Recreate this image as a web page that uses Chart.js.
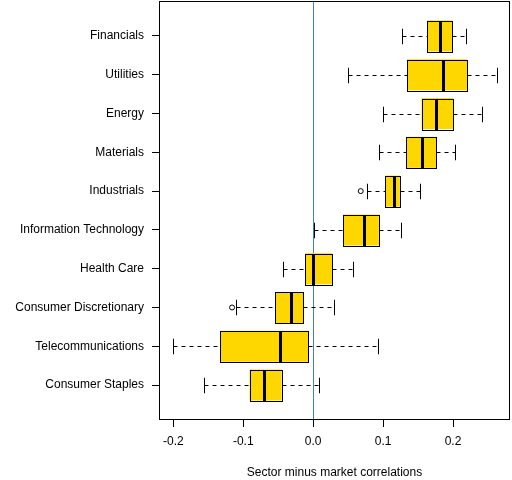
<!DOCTYPE html>
<html>
<head>
<meta charset="utf-8">
<script src="https://cdn.jsdelivr.net/npm/chart.js@4.4.1/dist/chart.umd.min.js"></script>
<style>
  html, body { margin: 0; padding: 0; background: #fff; }
  #wrap { width: 512px; height: 480px; }
</style>
</head>
<body>
<div id="wrap"><canvas id="chart" width="512" height="480"></canvas></div>
<script>
// sectors, top to bottom
const sectors = ['Financials', 'Utilities', 'Energy', 'Materials', 'Industrials',
    'Information Technology', 'Health Care', 'Consumer Discretionary',
    'Telecommunications', 'Consumer Staples'];

// box statistics
const whiskerLow  = [0.127, 0.050, 0.100, 0.094, 0.077, 0.001, -0.043, -0.110, -0.201, -0.156];
const quartile1   = [0.163, 0.134, 0.155, 0.133, 0.103, 0.043, -0.011, -0.054, -0.133, -0.091];
const medians     = [0.182, 0.186, 0.176, 0.156, 0.116, 0.073, 0.000, -0.031, -0.048, -0.071];
const quartile3   = [0.199, 0.220, 0.200, 0.176, 0.124, 0.094, 0.027, -0.014, -0.007, -0.045];
const whiskerHigh = [0.219, 0.263, 0.241, 0.203, 0.153, 0.126, 0.057, 0.030, 0.093, 0.009];

// outliers: [sector index, value]
const outliers = [[4, 0.068], [7, -0.116]];

const xTicks = [-0.2, -0.1, 0.0, 0.1, 0.2];

const FONT = { family: '"Liberation Sans", Arial, sans-serif', size: 12 };

const px = v => Math.round(v) + 0.5;

const boxPlugin = {
    id: 'boxParts',
    beforeDatasetsDraw(chart) {
        const { ctx, chartArea, scales: { x } } = chart;
        const zx = px(x.getPixelForValue(0));
        ctx.save();
        ctx.strokeStyle = '#4682b4';
        ctx.lineWidth = 1;
        ctx.beginPath();
        ctx.moveTo(zx, chartArea.top);
        ctx.lineTo(zx, chartArea.bottom);
        ctx.stroke();
        ctx.restore();
    },
    afterDatasetsDraw(chart) {
        const { ctx, scales: { x, y } } = chart;
        const bars = chart.getDatasetMeta(0).data;
        ctx.save();
        ctx.strokeStyle = '#000';
        sectors.forEach((s, i) => {
            const cy = px(y.getPixelForValue(i + 1));
            const half = bars[i].height / 2;
            const capHalf = half / 2;
            const xl = px(x.getPixelForValue(whiskerLow[i]));
            const x1 = px(x.getPixelForValue(quartile1[i]));
            const x3 = px(x.getPixelForValue(quartile3[i]));
            const xh = px(x.getPixelForValue(whiskerHigh[i]));
            const xm = x.getPixelForValue(medians[i]);
            // dashed whiskers
            ctx.lineWidth = 1;
            ctx.setLineDash([4, 4]);
            ctx.beginPath();
            ctx.moveTo(xl, cy); ctx.lineTo(x1, cy);
            ctx.moveTo(x3, cy); ctx.lineTo(xh, cy);
            ctx.stroke();
            // staples
            ctx.setLineDash([]);
            ctx.beginPath();
            ctx.moveTo(xl, cy - capHalf); ctx.lineTo(xl, cy + capHalf);
            ctx.moveTo(xh, cy - capHalf); ctx.lineTo(xh, cy + capHalf);
            ctx.stroke();
            // box outline
            const top = px(cy - half), bot = px(cy + half);
            ctx.strokeRect(x1, top, x3 - x1, bot - top);
            // median
            ctx.lineWidth = 3;
            ctx.beginPath();
            ctx.moveTo(Math.round(xm) + 0.5, top); ctx.lineTo(Math.round(xm) + 0.5, bot);
            ctx.stroke();
        });
        ctx.restore();
    },
    afterDraw(chart) {
        const { ctx, chartArea } = chart;
        ctx.save();
        ctx.strokeStyle = '#000';
        ctx.lineWidth = 1;
        ctx.strokeRect(Math.round(chartArea.left) + 0.5, Math.round(chartArea.top) + 0.5,
            Math.round(chartArea.right - chartArea.left) - 1, Math.round(chartArea.bottom - chartArea.top) - 1);
        ctx.restore();
    }
};

function noPadding(scale) {
    scale.paddingTop = 0;
    scale.paddingBottom = 0;
    scale.paddingLeft = 0;
    scale.paddingRight = 0;
}

new Chart(document.getElementById('chart'), {
    type: 'bar',
    data: {
        datasets: [{
            type: 'bar',
            data: sectors.map((s, i) => ({ y: i + 1, x: [quartile1[i], quartile3[i]] })),
            backgroundColor: '#FFD700',
            borderWidth: 0,
            categoryPercentage: 1,
            barPercentage: 0.8
        }, {
            type: 'scatter',
            data: outliers.map(o => ({ y: o[0] + 1, x: o[1] })),
            pointStyle: 'circle',
            pointRadius: 2.5,
            pointBackgroundColor: '#fff',
            pointBorderColor: '#000',
            pointBorderWidth: 1
        }]
    },
    options: {
        indexAxis: 'y',
        responsive: false,
        animation: false,
        layout: { autoPadding: false, padding: { top: 1, right: 2, bottom: 0, left: 0 } },
        plugins: { legend: { display: false }, tooltip: { enabled: false } },
        scales: {
            x: {
                type: 'linear',
                min: -0.2205,
                max: 0.2815,
                offset: false,
                afterBuildTicks: scale => { scale.ticks = xTicks.map(v => ({ value: v })); },
                afterFit: scale => { scale.height = 60; noPadding(scale); },
                grid: { offset: false, drawOnChartArea: false, drawTicks: true, tickLength: 7, color: '#000' },
                border: { display: false },
                ticks: {
                    color: '#000', font: FONT, padding: 7, maxRotation: 0,
                    callback: v => v.toFixed(1)
                },
                title: {
                    display: true, text: 'Sector minus market correlations',
                    color: '#000', font: FONT, padding: { top: 13, bottom: 0 }
                }
            },
            y: {
                type: 'linear',
                min: 0.1,
                max: 10.9,
                reverse: true,
                offset: false,
                afterBuildTicks: scale => { scale.ticks = sectors.map((s, i) => ({ value: i + 1 })); },
                afterFit: scale => { scale.width = 159; noPadding(scale); },
                grid: { offset: false, drawOnChartArea: false, drawTicks: true, tickLength: 7, color: '#000' },
                border: { display: false },
                ticks: {
                    color: '#000', font: FONT, padding: 8, autoSkip: false,
                    callback: v => sectors[Math.round(v) - 1]
                }
            }
        }
    },
    plugins: [boxPlugin]
});
</script>
</body>
</html>
